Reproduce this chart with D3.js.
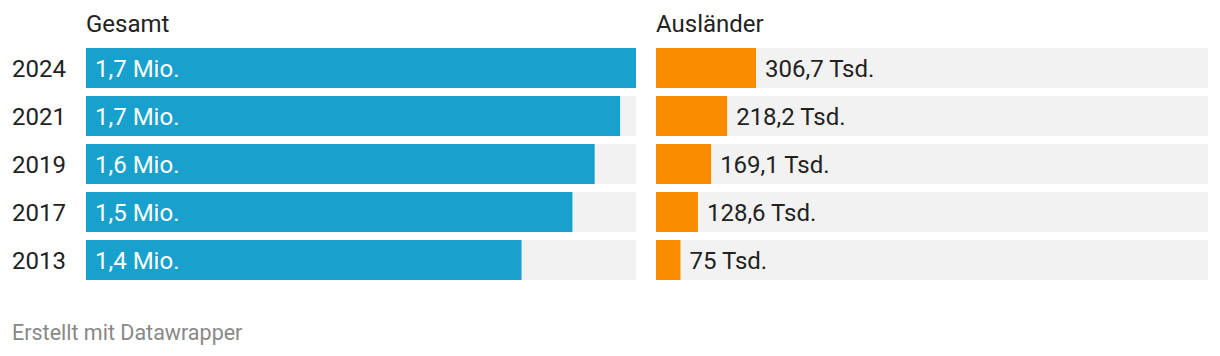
<!DOCTYPE html>
<html><head><meta charset="utf-8">
<script src="https://cdn.jsdelivr.net/npm/d3@7"></script>
<style>
body{margin:0;background:#fff;}
svg text{font-family:Roboto,"Noto Sans",sans-serif;}
</style></head>
<body><svg id="c" width="1220" height="356"></svg>
<script>
const years = ["2024","2021","2019","2017","2013"];
const gesamt = [1730, 1680, 1600, 1530, 1370]; // Tsd.
const gesamtLabels = ["1,7 Mio.","1,7 Mio.","1,6 Mio.","1,5 Mio.","1,4 Mio."];
const auslaender = [306.7, 218.2, 169.1, 128.6, 75]; // Tsd.
const auslaenderLabels = ["306,7 Tsd.","218,2 Tsd.","169,1 Tsd.","128,6 Tsd.","75 Tsd."];
const columnTitles = ["Gesamt","Ausländer"];
const rightMax = 1693;

const svg = d3.select("#c");
const y2 = d3.scaleBand().domain(years).range([48, 280]).paddingInner(8/48).paddingOuter(0);

const xL = d3.scaleLinear().domain([0, d3.max(gesamt)]).range([86, 636]);
const xR = d3.scaleLinear().domain([0, rightMax]).range([656, 1208]);

const fs = 24;
svg.append("text").attr("x",86).attr("y",32).attr("font-size",fs).attr("fill","#222").text(columnTitles[0]);
svg.append("text").attr("x",656).attr("y",32).attr("font-size",fs).attr("fill","#222").text(columnTitles[1]);

const rows = svg.selectAll("g.row").data(years).join("g");
rows.append("text").attr("x",12).attr("y",d=>y2(d)+y2.bandwidth()/2).attr("dy","0.36em")
  .attr("font-size",fs).attr("fill","#222").text(d=>d);

rows.append("rect").attr("x",xL(0)).attr("y",d=>y2(d)).attr("width",xL.range()[1]-xL(0)).attr("height",y2.bandwidth()).attr("fill","#f2f2f2");
rows.append("rect").attr("x",xL(0)).attr("y",d=>y2(d)).attr("width",(d,i)=>xL(gesamt[i])-xL(0)).attr("height",y2.bandwidth()).attr("fill","#18a1cd");
rows.append("text").attr("x",xL(0)+9).attr("y",d=>y2(d)+y2.bandwidth()/2).attr("dy","0.36em")
  .attr("font-size",fs).attr("fill","#fff").text((d,i)=>gesamtLabels[i]);

rows.append("rect").attr("x",xR(0)).attr("y",d=>y2(d)).attr("width",xR.range()[1]-xR(0)).attr("height",y2.bandwidth()).attr("fill","#f2f2f2");
rows.append("rect").attr("x",xR(0)).attr("y",d=>y2(d)).attr("width",(d,i)=>xR(auslaender[i])-xR(0)).attr("height",y2.bandwidth()).attr("fill","#fa8c00");
rows.append("text").attr("x",(d,i)=>xR(auslaender[i])+9).attr("y",d=>y2(d)+y2.bandwidth()/2).attr("dy","0.36em")
  .attr("font-size",fs).attr("fill","#222").text((d,i)=>auslaenderLabels[i]);

svg.append("text").attr("x",12).attr("y",340).attr("font-size",21.5).attr("fill","#888").text("Erstellt mit Datawrapper");
</script></body></html>
